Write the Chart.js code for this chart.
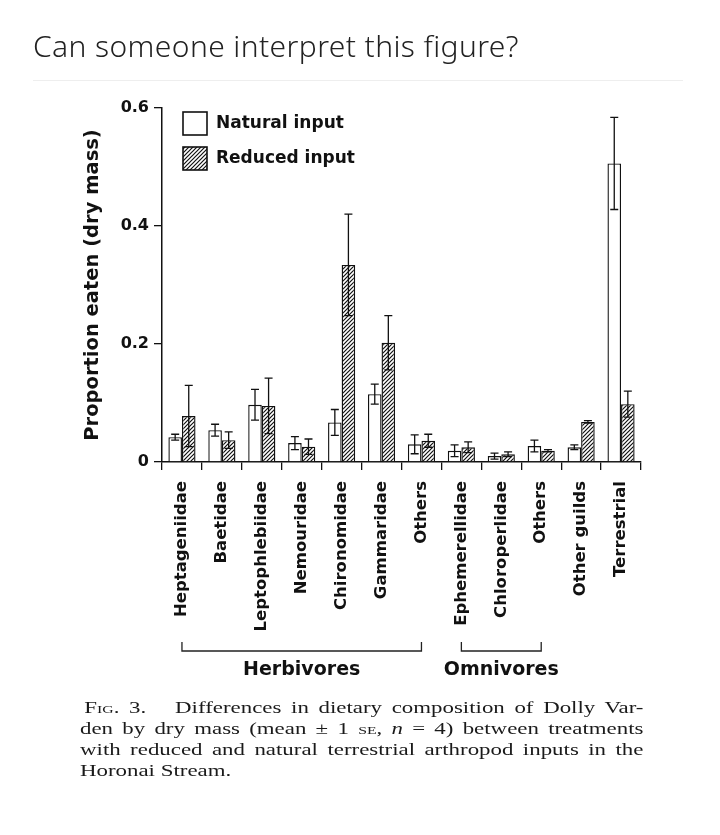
<!DOCTYPE html>
<html>
<head>
<meta charset="utf-8">
<script src="https://cdn.jsdelivr.net/npm/chart.js@4.4.1/dist/chart.umd.min.js"></script>
<style>
    html, body { margin: 0; padding: 0; background: #fff; }
    body { width: 720px; height: 835px; position: relative; overflow: hidden; }
    #wrap { position: absolute; left: 0; top: 0; width: 720px; height: 835px; }
    #titulo {
        position: absolute; left: 33px; top: 25px;
        font-family: "Noto Sans", sans-serif; font-weight: 300; font-size: 30px;
        letter-spacing: 0.4px; color: #222; white-space: nowrap;
    }
    #linea { position: absolute; left: 33px; top: 80px; width: 650px; height: 1px; background: #eeeeee; }
    #leyenda {
        position: absolute; left: 80px; top: 697px; width: 394px;
        font-family: "Liberation Serif", "Times New Roman", serif; font-size: 16px;
        line-height: 21px; color: #1a1a1a;
        transform: scaleX(1.43); transform-origin: 0 0;
    }
    #leyenda .j { text-align: justify; text-align-last: justify; white-space: nowrap; }
    #leyenda .sc { font-variant: small-caps; }
</style>
</head>
<body>
<div id="wrap"><canvas id="grafico" width="720" height="835"></canvas></div>
<div id="titulo">Can someone interpret this figure?</div>
<div id="linea"></div>
<div id="leyenda">
    <div class="j" style="padding-left:3px">F<span class="sc">ig</span>. 3.&nbsp;&nbsp; Differences in dietary composition of Dolly Var-</div>
    <div class="j">den by dry mass (mean ± 1 <span class="sc">se</span>, <i>n</i> = 4) between treatments</div>
    <div class="j">with reduced and natural terrestrial arthropod inputs in the</div>
    <div>Horonai Stream.</div>
</div>
<script>
"use strict";

// datos
const categorias = [
    "Heptageniidae", "Baetidae", "Leptophlebiidae", "Nemouridae",
    "Chironomidae", "Gammaridae", "Others", "Ephemerellidae",
    "Chloroperlidae", "Others", "Other guilds", "Terrestrial"
];

const naturalMedia = [0.042, 0.054, 0.097, 0.032, 0.067, 0.115, 0.030, 0.019, 0.010, 0.027, 0.025, 0.506];
const naturalSE    = [0.005, 0.010, 0.026, 0.011, 0.022, 0.017, 0.016, 0.010, 0.005, 0.010, 0.004, 0.078];

const reducidoMedia = [0.078, 0.037, 0.095, 0.026, 0.334, 0.202, 0.036, 0.025, 0.013, 0.019, 0.068, 0.098];
const reducidoSE    = [0.052, 0.014, 0.047, 0.013, 0.086, 0.046, 0.011, 0.009, 0.004, 0.002, 0.002, 0.022];

const serieNombres = ["Natural input", "Reduced input"];

const yTicks = [0, 0.2, 0.4, 0.6];
const yTickLabels = ["0", "0.2", "0.4", "0.6"];

const grupos = ["Herbivores", "Omnivores"];
const gruposDesde = [0, 7];
const gruposHasta = [6, 9];

const TINTA = "#111";
const FUENTE = "DejaVu Sans";

function rayado() {
    const c = document.createElement("canvas");
    c.width = 4;
    c.height = 4;
    const g = c.getContext("2d");
    g.fillStyle = "#fff";
    g.fillRect(0, 0, 4, 4);
    g.strokeStyle = "#111";
    g.lineWidth = 1.2;
    g.beginPath();
    g.moveTo(0, 4); g.lineTo(4, 0);
    g.moveTo(-1, 1); g.lineTo(1, -1);
    g.moveTo(3, 5); g.lineTo(5, 3);
    g.stroke();
    return g.createPattern(c, "repeat");
}

const patron = rayado();

const barrasError = {
    id: "barrasError",
    afterDatasetsDraw(chart) {
        const ctx = chart.ctx;
        const y = chart.scales.y;
        ctx.save();
        ctx.strokeStyle = TINTA;
        ctx.lineWidth = 1.3;
        chart.data.datasets.forEach((ds, i) => {
            chart.getDatasetMeta(i).data.forEach((bar, j) => {
                const v = ds.data[j];
                const e = ds.errores[j];
                const arriba = y.getPixelForValue(v + e);
                const abajo = y.getPixelForValue(Math.max(v - e, 0));
                const x = bar.x;
                ctx.beginPath();
                ctx.moveTo(x, arriba); ctx.lineTo(x, abajo);
                ctx.moveTo(x - 4, arriba); ctx.lineTo(x + 4, arriba);
                ctx.moveTo(x - 4, abajo); ctx.lineTo(x + 4, abajo);
                ctx.stroke();
            });
        });
        ctx.restore();
    }
};

const extras = {
    id: "extras",
    afterDraw(chart) {
        const ctx = chart.ctx;
        const area = chart.chartArea;
        const x = chart.scales.x;

        // leyenda dentro del area
        ctx.save();
        chart.data.datasets.forEach((ds, i) => {
            const bx = area.left + 21;
            const by = area.top + 4 + i * 35;
            ctx.fillStyle = ds.backgroundColor;
            ctx.fillRect(bx, by, 24, 23);
            ctx.strokeStyle = TINTA;
            ctx.lineWidth = 1.6;
            ctx.strokeRect(bx, by, 24, 23);
            ctx.fillStyle = TINTA;
            ctx.font = "bold 17px '" + FUENTE + "'";
            ctx.textBaseline = "middle";
            ctx.textAlign = "left";
            ctx.fillText(ds.label, bx + 33, by + 12);
        });

        // corchetes de grupos
        ctx.strokeStyle = "#222";
        ctx.lineWidth = 1.3;
        const yc = area.bottom + 189;
        grupos.forEach((nombre, k) => {
            const x0 = x.getPixelForValue(gruposDesde[k]);
            const x1 = x.getPixelForValue(gruposHasta[k]);
            ctx.beginPath();
            ctx.moveTo(x0, yc - 9);
            ctx.lineTo(x0, yc);
            ctx.lineTo(x1, yc);
            ctx.lineTo(x1, yc - 9);
            ctx.stroke();
            ctx.fillStyle = TINTA;
            ctx.font = "bold 19px '" + FUENTE + "'";
            ctx.textAlign = "center";
            ctx.textBaseline = "middle";
            ctx.fillText(nombre, (x0 + x1) / 2, yc + 19);
        });
        ctx.restore();
    }
};

const grafico = new Chart(document.getElementById("grafico"), {
    type: "bar",
    data: {
        labels: categorias,
        datasets: [
            {
                label: serieNombres[0],
                data: naturalMedia,
                errores: naturalSE,
                backgroundColor: "#ffffff",
                borderColor: TINTA,
                borderWidth: 1.4
            },
            {
                label: serieNombres[1],
                data: reducidoMedia,
                errores: reducidoSE,
                backgroundColor: patron,
                borderColor: TINTA,
                borderWidth: 1.4
            }
        ]
    },
    options: {
        responsive: false,
        animation: false,
        devicePixelRatio: 1,
        categoryPercentage: 0.68,
        barPercentage: 1.0,
        layout: {
            padding: { left: 80, top: 108, right: 79, bottom: 0 }
        },
        plugins: {
            legend: { display: false },
            tooltip: { enabled: false }
        },
        scales: {
            x: {
                offset: true,
                afterFit(scale) { scale.height = 373; },
                grid: {
                    offset: true,
                    drawOnChartArea: false,
                    color: TINTA,
                    lineWidth: 1.3,
                    tickLength: 8
                },
                border: { color: TINTA, width: 1.5 },
                ticks: {
                    autoSkip: false,
                    minRotation: 90,
                    maxRotation: 90,
                    padding: 11,
                    color: TINTA,
                    font: { family: FUENTE, weight: "bold", size: 16.5 }
                }
            },
            y: {
                min: 0,
                max: 0.6,
                afterFit(scale) { scale.width = 82; },
                afterBuildTicks(scale) {
                    scale.ticks = yTicks.map(v => ({ value: v }));
                },
                grid: {
                    drawOnChartArea: false,
                    color: TINTA,
                    lineWidth: 1.3,
                    tickLength: 8
                },
                border: { color: TINTA, width: 1.5 },
                ticks: {
                    padding: 5,
                    color: TINTA,
                    font: { family: FUENTE, weight: "bold", size: 16 },
                    callback: (v, i) => yTickLabels[i]
                },
                title: {
                    display: true,
                    text: "Proportion eaten (dry mass)",
                    color: TINTA,
                    padding: { top: 1, bottom: 0 },
                    font: { family: FUENTE, weight: "bold", size: 19.5 }
                }
            }
        }
    },
    plugins: [barrasError, extras]
});

window.grafico = grafico;
</script>
</body>
</html>
